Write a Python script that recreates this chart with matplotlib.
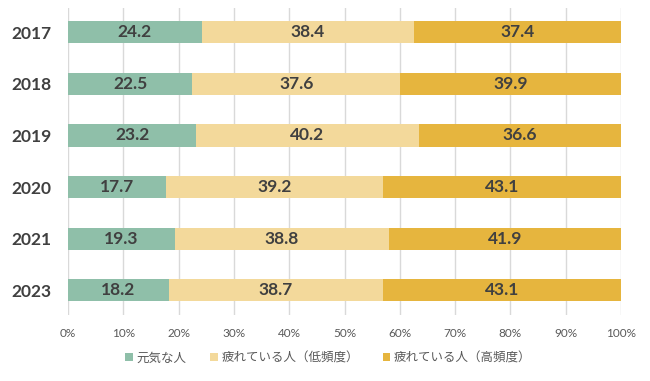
import matplotlib
matplotlib.use("Agg")
import matplotlib.pyplot as plt
import numpy as np

plt.rcParams['font.family'] = ['Noto Sans CJK JP', 'DejaVu Sans']

years = ["2017", "2018", "2019", "2020", "2021", "2023"]
genki = [24.2, 22.5, 23.2, 17.7, 19.3, 18.2]
tired_low = [38.4, 37.6, 40.2, 39.2, 38.8, 38.7]
tired_high = [37.4, 39.9, 36.6, 43.1, 41.9, 43.1]
series_names = ["元気な人", "疲れている人（低頻度）", "疲れている人（高頻度）"]
colors = ["#8FBFA9", "#F3D99B", "#E6B53E"]

fig = plt.figure(figsize=(6.5, 3.81), dpi=100)
ax = fig.add_axes([0.1046, 0.173, 0.8508, 0.806])

y = np.arange(len(years))
left = np.zeros(len(years))
for vals, name, col in zip([genki, tired_low, tired_high], series_names, colors):
    vals = np.array(vals)
    ax.barh(y, vals, left=left, height=0.43, color=col, label=name, zorder=3)
    for yi, l, v in zip(y, left, vals):
        ax.text(l + v / 2, yi, f"{v:.1f}", ha="center", va="center", family="Lato",
                fontsize=12.5, fontweight="bold", color="#404040", zorder=4)
    left = left + vals

ax.set_xlim(0, 100)
ax.set_ylim(5.48, -0.47)
ax.set_yticks(y)
ax.set_yticklabels(years, fontsize=12.5, fontweight="bold", color="#404040", family="Lato")
ax.set_xticks(np.arange(0, 101, 10))
ax.set_xticklabels([f"{t}%" for t in range(0, 101, 10)], fontsize=8.5, color="#595959",
                   family="Lato")
ax.tick_params(axis="y", length=0, pad=12)
ax.tick_params(axis="x", length=0, pad=9)
ax.grid(axis="x", color="#D9D9D9", linewidth=1, zorder=0)
for s in ax.spines.values():
    s.set_visible(False)

leg = fig.legend(loc="center", bbox_to_anchor=(0.505, 0.06), ncol=3, frameon=False,
                 fontsize=9, handlelength=0.6, handleheight=0.6, columnspacing=1.9,
                 handletextpad=0.3)
for t in leg.get_texts():
    t.set_color("#595959")

fig.savefig("out.png", dpi=100)
